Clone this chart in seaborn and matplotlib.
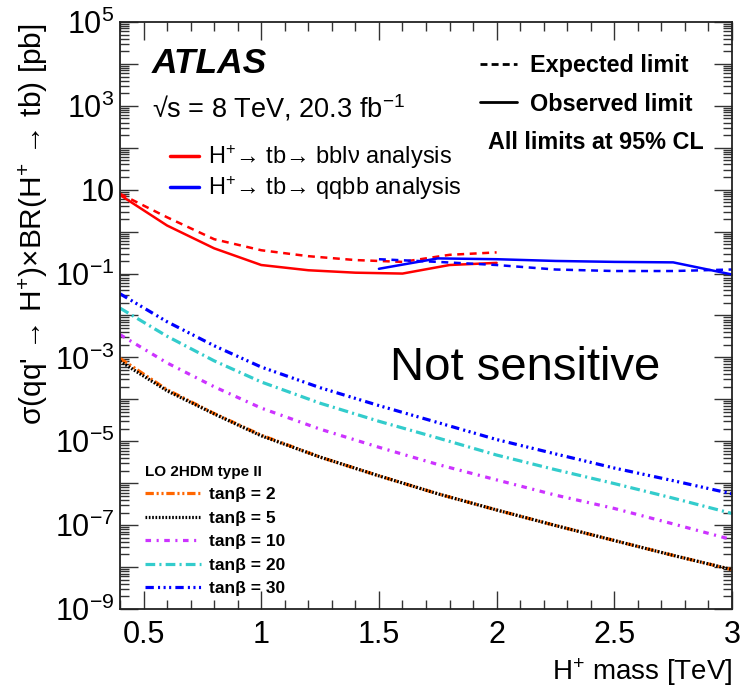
import numpy as np
import seaborn as sns
import matplotlib.pyplot as plt
from matplotlib.lines import Line2D
from matplotlib.ticker import FixedLocator, LogLocator, FuncFormatter, NullFormatter, MultipleLocator

# observed / expected limits
red_x = [0.4, 0.6, 0.8, 1.0, 1.2, 1.4, 1.6, 1.8, 2.0]
red_obs = [7.5, 1.4, 0.40, 0.16, 0.12, 0.105, 0.10, 0.16, 0.18]
red_exp = [8.0, 2.2, 0.66, 0.36, 0.26, 0.21, 0.19, 0.28, 0.32]

blue_x = [1.5, 1.75, 2.0, 2.25, 2.5, 2.75, 3.0]
blue_obs = [0.13, 0.23, 0.22, 0.20, 0.19, 0.185, 0.095]
blue_exp = [0.22, 0.19, 0.16, 0.125, 0.115, 0.115, 0.125]

# LO 2HDM type II predictions
mass = [0.4, 0.6, 0.8, 1.0, 1.25, 1.5, 1.75, 2.0, 2.25, 2.5, 2.75, 3.0]
tb2 = [9.5e-4, 1.7e-4, 4.6e-5, 1.4e-5, 4.2e-6, 1.5e-6, 5.6e-7, 2.3e-7, 9.8e-8, 4.3e-8, 1.9e-8, 8.7e-9]
tb5 = [8.1e-4, 1.6e-4, 4.5e-5, 1.35e-5, 4.2e-6, 1.5e-6, 5.6e-7, 2.3e-7, 9.8e-8, 4.3e-8, 1.9e-8, 8.7e-9]
tb10 = [3.5e-3, 7.4e-4, 2.0e-4, 6.2e-5, 1.95e-5, 7.2e-6, 2.8e-6, 1.2e-6, 5.2e-7, 2.5e-7, 1.07e-7, 4.5e-8]
tb20 = [1.5e-2, 3.2e-3, 8.3e-4, 2.6e-4, 8.1e-5, 3.0e-5, 1.2e-5, 4.7e-6, 2.1e-6, 9.8e-7, 4.4e-7, 1.9e-7]
tb30 = [3.3e-2, 7.1e-3, 1.9e-3, 5.9e-4, 1.9e-4, 7.1e-5, 2.8e-5, 1.1e-5, 5.0e-6, 2.3e-6, 1.15e-6, 5.6e-7]

tb_labels = ["tanβ = 2", "tanβ = 5", "tanβ = 10", "tanβ = 20", "tanβ = 30"]
tb_colors = ["#ff6600", "black", "#cc33ff", "#33cccc", "#0000ff"]
tb_dashes = [(0, (6, 2, 1.5, 2, 1.5, 2)), (0, (1.2, 1.2)), (0, (4, 4, 1.5, 4)),
             (0, (7, 3, 1.5, 3)), (0, (6, 3, 1.5, 2.5, 1.5, 2.5, 1.5, 3))]

sns.set_theme(style="ticks")
plt.rcParams['font.family'] = ['Liberation Sans', 'DejaVu Sans']
plt.rcParams['mathtext.fontset'] = 'custom'
plt.rcParams['mathtext.rm'] = 'Liberation Sans'
plt.rcParams['mathtext.it'] = 'Liberation Sans:italic'
plt.rcParams['mathtext.bf'] = 'Liberation Sans:bold'
plt.rcParams['lines.scale_dashes'] = False
plt.rcParams['text.color'] = 'black'

fig = plt.figure(figsize=(7.44, 6.99), dpi=100)
ax = fig.add_axes([120/744, 1-609/699, 612/744, 587/699])

for yv, col, ls in zip([tb2, tb5, tb10, tb20, tb30], tb_colors, tb_dashes):
    sns.lineplot(x=mass, y=yv, ax=ax, color=col, linestyle=ls, linewidth=2.3, sort=False)

sns.lineplot(x=red_x, y=red_exp, ax=ax, color="red", linestyle=(0, (5, 4)), linewidth=1.8, sort=False)
sns.lineplot(x=red_x, y=red_obs, ax=ax, color="red", linewidth=1.8, sort=False)
sns.lineplot(x=blue_x, y=blue_exp, ax=ax, color="blue", linestyle=(0, (5, 4)), linewidth=1.8, sort=False)
sns.lineplot(x=blue_x, y=blue_obs, ax=ax, color="blue", linewidth=1.8, sort=False)

ax.set_yscale("log")
ax.set_xlim(0.4, 3.0)
ax.set_ylim(1e-9, 1e5)

def ylab(v, pos):
    e = int(round(np.log10(v)))
    if e % 2 == 0:
        return ""
    if e == 1:
        return "10"
    return "10$^{%d}$" % e if e > 0 else "10$^{\u2212%d}$" % (-e)

ax.yaxis.set_major_locator(FixedLocator([10.0**k for k in range(-9, 6)]))
ax.yaxis.set_major_formatter(FuncFormatter(ylab))
ax.yaxis.set_minor_locator(LogLocator(base=10, subs=np.arange(2, 10), numticks=50))
ax.yaxis.set_minor_formatter(NullFormatter())
ax.xaxis.set_major_locator(FixedLocator([0.5, 1.0, 1.5, 2.0, 2.5, 3.0]))
ax.xaxis.set_major_formatter(FuncFormatter(lambda v, p: ("%g" % v)))
ax.xaxis.set_minor_locator(MultipleLocator(0.1))

ax.tick_params(which="both", direction="in", top=True, right=True, colors="#333333",
               labelcolor="black", labelsize=22)
ax.tick_params(which="major", length=13, width=1)
ax.tick_params(which="minor", length=6.5, width=1)
ax.tick_params(axis="x", pad=8)
ax.tick_params(axis="y", pad=4)
for s in ax.spines.values():
    s.set_linewidth(1.3)
    s.set_color("#222222")

# axis titles placed like the ROOT original
fig.text(33/744, 1-23/699, "σ(qq' → H$^{+}$)×BR(H$^{+}$ → tb) [pb]", rotation=90,
         ha="center", va="top", fontsize=21.5)
fig.text(732/744, 1-672/699, "H$^{+}$ mass [TeV]", ha="right", va="center", fontsize=20)

ax.text(0.052, 0.930, "ATLAS", transform=ax.transAxes, fontsize=25.5, fontweight="bold",
        fontstyle="italic", va="center")
ax.text(0.052, 0.853, "√s = 8 TeV, 20.3 fb$^{-1}$", transform=ax.transAxes, fontsize=19.5, va="center")
ax.text(0.441, 0.41, "Not sensitive", transform=ax.transAxes, fontsize=34, va="center")
ax.text(0.601, 0.795, "All limits at 95% CL", transform=ax.transAxes, fontsize=16.8,
        fontweight="bold", va="center")

h_ana = [Line2D([], [], color="red", lw=2.5), Line2D([], [], color="blue", lw=2.5)]
leg1 = ax.legend(h_ana, ["H$^{+}$→ tb→ bblν analysis", "H$^{+}$→ tb→ qqbb analysis"],
                 loc="upper left", bbox_to_anchor=(0.082, 0.793), frameon=False, fontsize=17,
                 handlelength=1.2, handletextpad=0.4, labelspacing=0.12, borderaxespad=0, borderpad=0)
ax.add_artist(leg1)

h_lim = [Line2D([], [], color="black", lw=2, linestyle=(0, (5, 3))), Line2D([], [], color="black", lw=2)]
leg2 = ax.legend(h_lim, ["Expected limit", "Observed limit"], loc="upper left",
                 bbox_to_anchor=(0.588, 0.946), frameon=False, prop={"size": 16.8, "weight": "bold"},
                 handlelength=1.6, handletextpad=0.57, labelspacing=0.68, borderaxespad=0, borderpad=0)
ax.add_artist(leg2)

h_tb = [Line2D([], [], color=c, lw=2.3, linestyle=d) for c, d in zip(tb_colors, tb_dashes)]
leg3 = ax.legend(h_tb, tb_labels, loc="lower left", bbox_to_anchor=(0.041, 0.022), frameon=False,
                 prop={"size": 12.5, "weight": "bold"}, title="LO 2HDM type II",
                 title_fontproperties={"size": 11, "weight": "bold"}, alignment="left",
                 handlelength=3.2, handletextpad=0.5, labelspacing=0.48, borderaxespad=0, borderpad=0)

fig.savefig("out.png", dpi=100)
